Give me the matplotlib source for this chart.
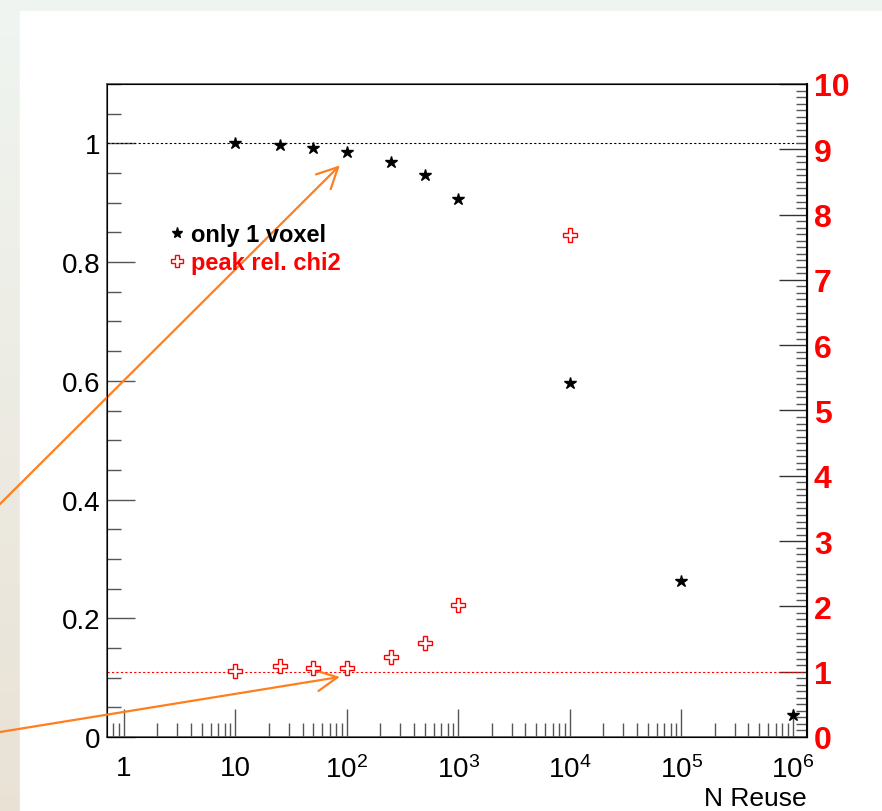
import numpy as np
import matplotlib
matplotlib.use('Agg')
import matplotlib.pyplot as plt
from matplotlib.ticker import FixedLocator, LogLocator, NullFormatter, MultipleLocator, FuncFormatter
from matplotlib.lines import Line2D
from matplotlib.patches import Rectangle

plt.rcParams['font.family'] = ['Liberation Sans', 'DejaVu Sans']
plt.rcParams['mathtext.fontset'] = 'custom'
plt.rcParams['mathtext.rm'] = 'Liberation Sans'

# data
n_reuse = [10, 25, 50, 100, 250, 500, 1000, 1e4, 1e5, 1e6]
only_1_voxel = [1.0, 0.997, 0.993, 0.985, 0.968, 0.946, 0.907, 0.597, 0.263, 0.037]
n_reuse_chi2 = [10, 25, 50, 100, 250, 500, 1000, 1e4]
peak_rel_chi2 = [1.01, 1.09, 1.06, 1.06, 1.23, 1.44, 2.02, 7.69]
xtick_vals = [1, 10, 100, 1e3, 1e4, 1e5, 1e6]
xtick_labels = ['1', '10', '$\\mathregular{10^{2}}$', '$\\mathregular{10^{3}}$',
                '$\\mathregular{10^{4}}$', '$\\mathregular{10^{5}}$', '$\\mathregular{10^{6}}$']

W, H = 882, 812
fig = plt.figure(figsize=(W / 100, H / 100), dpi=100)

# slide background: soft gradient with white canvas
bg = fig.add_axes([0, 0, 1, 1])
top_c = np.array([0.94, 0.96, 0.945])
bot_c = np.array([0.915, 0.885, 0.835])
t = np.linspace(0, 1, 200)[:, None, None]
grad = top_c * (1 - t) + bot_c * t
grad = np.repeat(grad, 2, axis=1)
bg.imshow(grad, aspect='auto', extent=[0, 1, 0, 1])
bg.add_patch(Rectangle((20 / W, 0), 1, 1 - 12 / H, color='white'))
bg.set_xlim(0, 1)
bg.set_ylim(0, 1)
bg.axis('off')

ax = fig.add_axes([107 / W, 1 - 738 / H, 700 / W, 653 / H])
ax.set_xscale('log')
ax.set_xlim(0.705, 1.34e6)
ax.set_ylim(0, 1.1)

ax.plot(n_reuse, only_1_voxel, ls='none', marker='*', ms=9, color='black', zorder=5)
ax.axhline(1, color='black', ls=(0, (2, 2)), lw=0.8)

ax.xaxis.set_major_locator(FixedLocator(xtick_vals))
ax.set_xticklabels(xtick_labels)
ax.xaxis.set_minor_locator(LogLocator(subs=np.arange(2, 10)))
ax.xaxis.set_minor_formatter(NullFormatter())
ax.yaxis.set_major_locator(MultipleLocator(0.2))
ax.yaxis.set_minor_locator(MultipleLocator(0.05))
ax.yaxis.set_major_formatter(FuncFormatter(lambda v, p: '%g' % round(v, 2)))

ax.tick_params(axis='both', which='major', direction='in', length=20, width=1,
               color='#555555', labelsize=20, top=False, right=False)
ax.tick_params(axis='both', which='minor', direction='in', length=10, width=1,
               color='#555555', top=False, right=False)
ax.tick_params(axis='x', which='major', pad=13)
ax.tick_params(axis='y', which='major', pad=5)
for s in ['left', 'top', 'bottom']:
    ax.spines[s].set_color('#555555')
    ax.spines[s].set_linewidth(1.2)

ax.set_xlabel('N Reuse', loc='right', fontsize=19, labelpad=2)

ax2 = ax.twinx()
ax2.set_ylim(0, 10)
ax2.plot(n_reuse_chi2, peak_rel_chi2, ls='none', marker='P', ms=10, mfc='white',
         mec='red', mew=1, zorder=5)
ax2.axhline(1, color='red', ls=(0, (2, 2)), lw=0.8)
ax2.yaxis.set_major_locator(MultipleLocator(1))
ax2.yaxis.set_minor_locator(MultipleLocator(0.1))
ax2.tick_params(axis='y', which='major', direction='in', length=20, width=1,
                color='#333333', labelsize=23, labelcolor='red', pad=5)
ax2.tick_params(axis='y', which='minor', direction='in', length=8, width=1,
                color='#555555')
for lab in ax2.get_yticklabels():
    lab.set_fontweight('bold')
ax2.spines['right'].set_color('black')
ax2.spines['right'].set_linewidth(1.5)

handles = [Line2D([], [], ls='none', marker='*', ms=8, color='black'),
           Line2D([], [], ls='none', marker='P', ms=8, mfc='white', mec='red')]
leg = ax2.legend(handles, ['only 1 voxel', 'peak rel. chi2'], loc='upper left',
                 bbox_to_anchor=(0.073, 0.805), frameon=False, handlelength=0.6,
                 handletextpad=0.3, labelspacing=0.2, borderpad=0,
                 prop={'weight': 'bold', 'size': 17})
leg.get_texts()[0].set_color('black')
leg.get_texts()[1].set_color('red')

# orange annotation arrows coming from the left
arrow_kw = dict(arrowstyle='->,head_length=1.0,head_width=0.5', color='#ff7f1e',
                lw=1.6, mutation_scale=15, shrinkA=0, shrinkB=0)
ax.annotate('', xy=(86.5, 0.963), xycoords='data', xytext=(0, 1 - 505 / H),
            textcoords='figure fraction', arrowprops=arrow_kw, annotation_clip=False)
ax2.annotate('', xy=(86.5, 0.92), xycoords='data', xytext=(0, 1 - 733 / H),
             textcoords='figure fraction', arrowprops=arrow_kw, annotation_clip=False)

fig.savefig('out.png', dpi=100)
